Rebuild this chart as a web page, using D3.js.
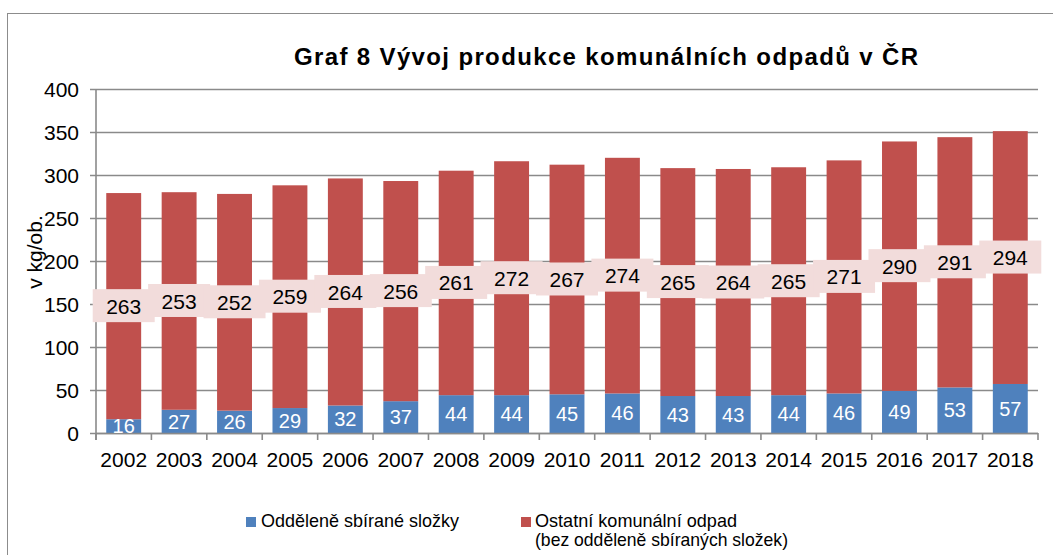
<!DOCTYPE html>
<html>
<head>
<meta charset="utf-8">
<script src="https://cdn.jsdelivr.net/npm/d3@7"></script>
<style>
  body { margin: 0; background: #fff; }
  svg { font-family: "Liberation Sans", Arial, sans-serif; }
</style>
</head>
<body>
<svg id="chart" width="1053" height="555"></svg>
<script>
const years = ['2002','2003','2004','2005','2006','2007','2008','2009','2010','2011','2012','2013','2014','2015','2016','2017','2018'];
const separated = [16, 27, 26, 29, 32, 37, 44, 44, 45, 46, 43, 43, 44, 46, 49, 53, 57];
const other = [263, 253, 252, 259, 264, 256, 261, 272, 267, 274, 265, 264, 265, 271, 290, 291, 294];
const yTicks = [0, 50, 100, 150, 200, 250, 300, 350, 400];

const svg = d3.select('#chart');
const margin = { left: 96, right: 1038, top: 89, bottom: 433 };

// outer frame, runs off the right and bottom edge like the original
svg.append('rect')
  .attr('x', 7.5).attr('y', 13.5)
  .attr('width', 1100).attr('height', 600)
  .attr('fill', 'none').attr('stroke', '#8c8c8c').attr('stroke-width', 1);

const x = d3.scaleBand()
  .domain(years)
  .range([margin.left, margin.right])
  .paddingInner(0.37)
  .paddingOuter(0.185);

const y = d3.scaleLinear()
  .domain([0, 400])
  .range([margin.bottom, margin.top]);

// gridlines
svg.append('g')
  .selectAll('line')
  .data(yTicks)
  .enter().append('line')
  .attr('x1', margin.left - 6).attr('x2', margin.right)
  .attr('y1', d => y(d) + 0.5).attr('y2', d => y(d) + 0.5)
  .attr('stroke', '#8a8a8a').attr('stroke-width', 1.6);

// y labels
svg.append('g')
  .selectAll('text')
  .data(yTicks)
  .enter().append('text')
  .attr('x', 79).attr('y', d => y(d))
  .attr('dy', '0.36em')
  .attr('text-anchor', 'end')
  .style('font-size', '21px')
  .text(d => d);

// y axis line
svg.append('line')
  .attr('x1', margin.left).attr('x2', margin.left)
  .attr('y1', margin.top).attr('y2', margin.bottom + 7)
  .attr('stroke', '#8a8a8a').attr('stroke-width', 1.6);

svg.append('text')
  .attr('transform', `translate(42,252) rotate(-90)`)
  .attr('text-anchor', 'middle')
  .style('font-size', '21px')
  .text('v kg/ob.');

// bars
const barG = svg.append('g');
years.forEach((yr, i) => {
  barG.append('rect')
    .attr('x', x(yr)).attr('width', x.bandwidth())
    .attr('y', y(separated[i])).attr('height', y(0) - y(separated[i]))
    .attr('fill', '#4f81bd');
  barG.append('rect')
    .attr('x', x(yr)).attr('width', x.bandwidth())
    .attr('y', y(separated[i] + other[i])).attr('height', y(0) - y(other[i]))
    .attr('fill', '#c0504d');
});

// x axis labels
const gx = svg.append('g')
  .attr('transform', `translate(0,${margin.bottom})`)
  .call(d3.axisBottom(x).tickSize(0).tickPadding(19));
gx.select('.domain').remove();
gx.selectAll('text')
  .style('font-size', '21px')
  .style('font-family', '"Liberation Sans", Arial, sans-serif')
  .attr('fill', '#000');

svg.append('line')
  .attr('x1', margin.left).attr('x2', margin.right)
  .attr('y1', margin.bottom + 0.5).attr('y2', margin.bottom + 0.5)
  .attr('stroke', '#8a8a8a').attr('stroke-width', 1.6);

// tick marks between categories
const bounds = d3.range(years.length + 1).map(i => margin.left + i * x.step());
svg.append('g')
  .selectAll('line')
  .data(bounds)
  .enter().append('line')
  .attr('x1', d => d).attr('x2', d => d)
  .attr('y1', margin.bottom).attr('y2', margin.bottom + 7)
  .attr('stroke', '#8a8a8a').attr('stroke-width', 1.6);

// labels for separated (white, inside blue)
svg.append('g')
  .selectAll('text')
  .data(separated)
  .enter().append('text')
  .attr('x', (d, i) => x(years[i]) + x.bandwidth() / 2)
  .attr('y', d => y(d / 2))
  .attr('dy', '0.36em')
  .attr('text-anchor', 'middle')
  .attr('fill', '#fff')
  .style('font-size', '20px')
  .text(d => d);

// labels for other, on pink boxes
const lab = svg.append('g');
other.forEach((v, i) => {
  const cx = x(years[i]) + x.bandwidth() / 2;
  const cy = y(separated[i] + v / 2);
  lab.append('rect')
    .attr('x', cx - 31).attr('y', cy - 17)
    .attr('width', 62).attr('height', 33)
    .attr('fill', '#f2dcdb');
});
other.forEach((v, i) => {
  const cx = x(years[i]) + x.bandwidth() / 2;
  const cy = y(separated[i] + v / 2);
  lab.append('text')
    .attr('x', cx).attr('y', cy)
    .attr('dy', '0.36em')
    .attr('text-anchor', 'middle')
    .style('font-size', '21px')
    .text(v);
});

// title
svg.append('text')
  .attr('x', 294).attr('y', 65)
  .attr('textLength', 624)
  .attr('lengthAdjust', 'spacing')
  .style('font-size', '24px')
  .style('font-weight', 'bold')
  .text('Graf 8 Vývoj produkce komunálních odpadů v ČR');

// legend
const legend = svg.append('g').style('font-size', '19px');
legend.append('rect').attr('x', 246).attr('y', 517).attr('width', 10).attr('height', 10).attr('fill', '#4f81bd');
legend.append('text').attr('x', 261).attr('y', 527)
  .attr('textLength', 198).attr('lengthAdjust', 'spacingAndGlyphs')
  .text('Odděleně sbírané složky');
legend.append('rect').attr('x', 521).attr('y', 517).attr('width', 10).attr('height', 10).attr('fill', '#c0504d');
legend.append('text').attr('x', 535).attr('y', 527)
  .attr('textLength', 202).attr('lengthAdjust', 'spacingAndGlyphs')
  .text('Ostatní komunální odpad');
legend.append('text').attr('x', 535).attr('y', 546)
  .attr('textLength', 253).attr('lengthAdjust', 'spacingAndGlyphs')
  .text('(bez odděleně sbíraných složek)');
</script>
</body>
</html>
